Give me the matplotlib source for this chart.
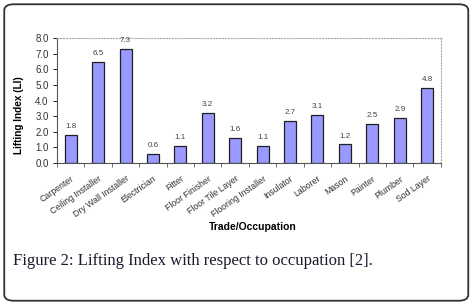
import matplotlib.pyplot as plt
from matplotlib.patches import FancyBboxPatch

# Data
occupations = ['Carpenter', 'Ceiling Installer', 'Dry Wall Installer', 'Electrician',
               'Fitter', 'Floor Finisher', 'Floor Tile Layer', 'Flooring Installer',
               'Insulator', 'Laborer', 'Mason', 'Painter', 'Plumber', 'Sod Layer']
lifting_index = [1.8, 6.5, 7.3, 0.6, 1.1, 3.2, 1.6, 1.1, 2.7, 3.1, 1.2, 2.5, 2.9, 4.8]
value_labels = ['1.8', '6.5', '7.3', '0.6', '1.1', '3.2', '1.6', '1.1', '2.7', '3.1', '1.2', '2.5', '2.9', '4.8']
y_ticks = [0, 1, 2, 3, 4, 5, 6, 7, 8]

plt.rcParams['font.family'] = ['Liberation Sans', 'DejaVu Sans']

fig = plt.figure(figsize=(4.73, 3.05), dpi=100)
fig.patch.set_facecolor('white')

# rounded frame around figure + caption
frame = FancyBboxPatch((0.009, 0.014), 0.981, 0.972, boxstyle="round,pad=0,rounding_size=0.02",
                       transform=fig.transFigure, facecolor='white', edgecolor='#333333',
                       linewidth=1.3, zorder=-5)
fig.patches.append(frame)

ax = fig.add_axes([0.1205, 0.4656, 0.8115, 0.4094])
ax.set_facecolor('none')
x = range(len(occupations))
ax.bar(x, lifting_index, width=0.44, color='#9999ff', edgecolor='#202020', linewidth=0.9)

for i, v in enumerate(lifting_index):
    ax.text(i, v + 0.3, value_labels[i], ha='center', va='bottom', fontsize=5.8,
            color='#444444')

ax.set_xlim(-0.5, len(occupations) - 0.5)
ax.set_ylim(0, 8)
ax.set_yticks(y_ticks)
ax.set_yticklabels(['%.1f' % t for t in y_ticks], fontsize=7, color='#333333')
ax.set_xticks(list(x))
ax.set_xticks([i - 0.5 for i in range(len(occupations) + 1)], minor=True)
ax.set_xticklabels(occupations, rotation=35, ha='right', rotation_mode='anchor',
                   fontsize=6.3, color='#333333')
ax.tick_params(axis='y', length=3, width=0.6, pad=3)
ax.tick_params(axis='x', which='major', length=0, pad=8)
ax.tick_params(axis='x', which='minor', length=3, width=0.6, color='#555555')

for s in ['top', 'right']:
    ax.spines[s].set_color('#aaaaaa')
    ax.spines[s].set_linestyle(':')
    ax.spines[s].set_linewidth(0.8)
for s in ['left', 'bottom']:
    ax.spines[s].set_color('#555555')
    ax.spines[s].set_linewidth(0.8)

ax.set_ylabel('Lifting Index (LI)', fontsize=7.2, fontweight='bold')
ax.yaxis.set_label_coords(-0.086, 0.38)
fig.text(0.535, 0.255, 'Trade/Occupation', ha='center', va='center', fontsize=7.5,
         fontweight='bold')

# caption
fig.text(0.0275, 0.145, 'Figure 2: Lifting Index with respect to occupation [2].',
         fontsize=12, family='Liberation Serif', color='#1a1a2e', va='center')

plt.savefig('out.png', dpi=100)
